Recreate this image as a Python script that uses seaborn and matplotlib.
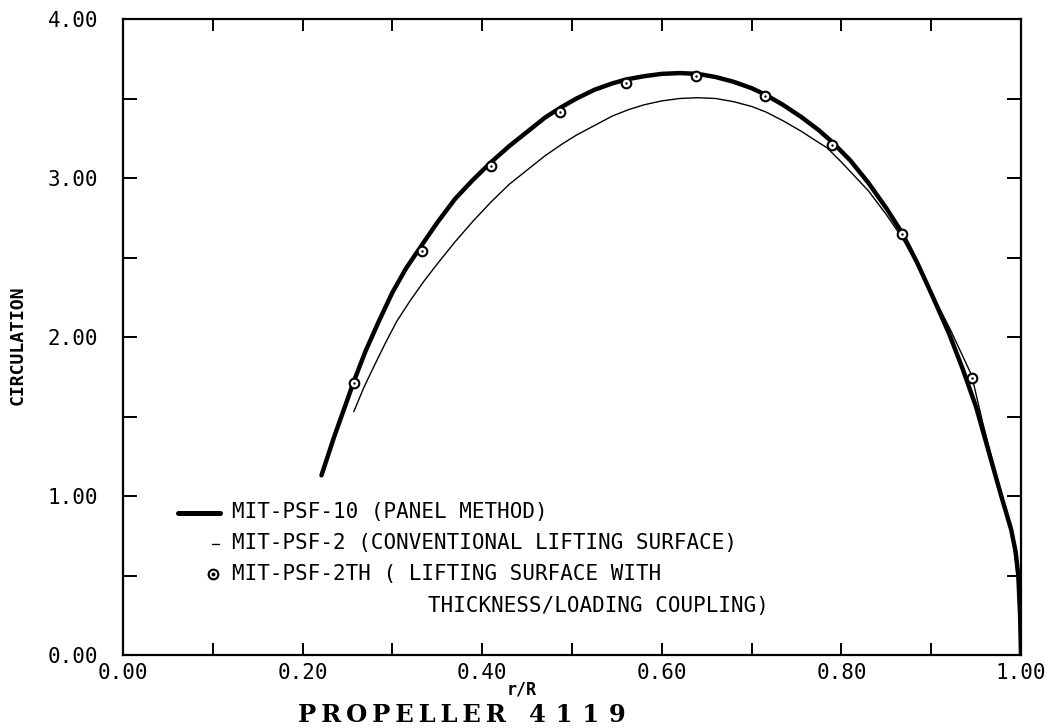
import matplotlib
matplotlib.use("Agg")
import matplotlib.pyplot as plt
from matplotlib.lines import Line2D
from matplotlib.ticker import MultipleLocator, FormatStrFormatter
import seaborn as sns
import pandas as pd

# MIT-PSF-10 (panel method)
r_panel = [0.221, 0.235, 0.247, 0.257, 0.27, 0.285, 0.30, 0.315, 0.333, 0.35,
           0.37, 0.39, 0.41, 0.43, 0.45, 0.47, 0.4865, 0.505, 0.525, 0.545,
           0.5605, 0.58, 0.60, 0.62, 0.64, 0.66, 0.68, 0.70, 0.715, 0.735,
           0.755, 0.775, 0.79, 0.81, 0.83, 0.85, 0.867, 0.885, 0.902, 0.92,
           0.935, 0.95, 0.965, 0.978, 0.989, 0.994, 0.997, 0.999, 1.0]
g_panel = [1.13, 1.37, 1.56, 1.72, 1.91, 2.10, 2.28, 2.43, 2.58, 2.72,
           2.87, 2.99, 3.10, 3.20, 3.29, 3.38, 3.44, 3.50, 3.555, 3.595,
           3.62, 3.64, 3.655, 3.66, 3.655, 3.635, 3.605, 3.565, 3.525, 3.46,
           3.385, 3.30, 3.225, 3.11, 2.97, 2.81, 2.66, 2.46, 2.25, 2.02,
           1.80, 1.56, 1.26, 1.00, 0.79, 0.65, 0.50, 0.25, 0.0]

# MIT-PSF-2 (conventional lifting surface)
r_conv = [0.257, 0.268, 0.279, 0.292, 0.305, 0.32, 0.335, 0.35, 0.37, 0.39,
          0.41, 0.43, 0.45, 0.47, 0.488, 0.505, 0.525, 0.545, 0.563, 0.58,
          0.60, 0.62, 0.64, 0.66, 0.68, 0.70, 0.716, 0.735, 0.755, 0.77,
          0.784, 0.80, 0.815, 0.83, 0.85, 0.867, 0.885, 0.902, 0.921, 0.945,
          0.957, 0.97, 0.98, 0.99, 0.996, 1.0]
g_conv = [1.53, 1.68, 1.81, 1.96, 2.10, 2.23, 2.35, 2.46, 2.60, 2.73,
          2.85, 2.96, 3.05, 3.14, 3.21, 3.27, 3.33, 3.39, 3.43, 3.46,
          3.485, 3.50, 3.505, 3.50, 3.48, 3.45, 3.415, 3.36, 3.295, 3.24,
          3.19, 3.10, 3.01, 2.92, 2.77, 2.63, 2.45, 2.26, 2.05, 1.76,
          1.47, 1.18, 0.98, 0.76, 0.50, 0.2]

# MIT-PSF-2TH (lifting surface with thickness/loading coupling)
r_th = [0.257, 0.333, 0.410, 0.4865, 0.5605, 0.638, 0.715, 0.790, 0.867, 0.945]
g_th = [1.71, 2.54, 3.075, 3.415, 3.60, 3.64, 3.515, 3.21, 2.65, 1.74]

legend_labels = ["MIT-PSF-10 (PANEL METHOD)",
                 "MIT-PSF-2 (CONVENTIONAL LIFTING SURFACE)",
                 "MIT-PSF-2TH ( LIFTING SURFACE WITH",
                 "THICKNESS/LOADING COUPLING)"]

panel = pd.DataFrame({"r": r_panel, "g": g_panel})
conv = pd.DataFrame({"r": r_conv, "g": g_conv})
th = pd.DataFrame({"r": r_th, "g": g_th})

sns.set_theme(style="ticks")
plt.rcParams["font.family"] = ["DejaVu Sans Mono", "DejaVu Sans"]
plt.rcParams["axes.edgecolor"] = "black"
plt.rcParams["axes.linewidth"] = 1.6

W, H = 1058, 728
fig = plt.figure(figsize=(W / 100, H / 100), dpi=100)
ax = fig.add_axes([123 / W, 1 - 655 / H, 898 / W, 636 / H])

sns.lineplot(data=panel, x="r", y="g", sort=False, estimator=None,
             color="black", lw=3.2, ax=ax, zorder=2)
sns.lineplot(data=conv, x="r", y="g", sort=False, estimator=None,
             color="black", lw=1.0, ax=ax, zorder=2)
sns.scatterplot(data=th, x="r", y="g", marker="o", s=48, facecolor="white",
                edgecolor="black", linewidth=1.5, ax=ax, zorder=3)
sns.scatterplot(data=th, x="r", y="g", marker="o", s=3, color="black",
                edgecolor="black", linewidth=0, ax=ax, zorder=4)

ax.set_xlim(0, 1)
ax.set_ylim(0, 4)
ax.set_xlabel("")
ax.set_ylabel("")
ax.xaxis.set_major_locator(MultipleLocator(0.2))
ax.xaxis.set_minor_locator(MultipleLocator(0.1))
ax.yaxis.set_major_locator(MultipleLocator(1.0))
ax.yaxis.set_minor_locator(MultipleLocator(0.5))
ax.xaxis.set_major_formatter(FormatStrFormatter("%.2f"))
ax.yaxis.set_major_formatter(FormatStrFormatter("%.2f"))
ax.tick_params(which="both", direction="in", top=True, right=True,
               width=1.4, color="black", labelsize=15, labelcolor="black")
ax.tick_params(axis="x", which="both", length=8.6, pad=6)
ax.tick_params(axis="y", which="both", length=10, pad=18)
for s in ax.spines.values():
    s.set_linewidth(1.6)
    s.set_color("black")

# legend keys and labels
tr = ax.transAxes
ax.add_line(Line2D([0.0612, 0.108], [0.223, 0.223], transform=tr,
                   color="black", lw=3.6))
ax.add_line(Line2D([0.0991, 0.1069], [0.175, 0.175], transform=tr,
                   color="black", lw=1.0))
ax.add_line(Line2D([0.1003], [0.127], transform=tr, marker="o", ms=7,
                   mfc="white", mec="black", mew=1.5, ls="none"))
ax.add_line(Line2D([0.1003], [0.127], transform=tr, marker="o", ms=1.8,
                   mfc="black", mec="black", ls="none"))
txt = dict(transform=tr, fontsize=15, color="black", va="center", ha="left")
ax.text(0.1214, 0.2248, legend_labels[0], **txt)
ax.text(0.1214, 0.176, legend_labels[1], **txt)
ax.text(0.1214, 0.127, legend_labels[2], **txt)
ax.text(0.3396, 0.0775, legend_labels[3], **txt)

fig.text(17.5 / W, 1 - 345 / H, "CIRCULATION", rotation=90, ha="center",
         va="center", fontsize=13, fontweight="bold", color="black")
fig.text(522 / W, 1 - 690 / H, "r/R", ha="center", va="center",
         fontsize=12, fontweight="bold", color="black")
fig.text(462 / W, 1 - 715 / H,
         "P\u2009R\u2009O\u2009P\u2009E\u2009L\u2009L\u2009E\u2009R\u2009\u2009\u2009 4\u2009\u20091\u2009\u20091\u2009\u20099",
         ha="center", va="center", fontsize=17.5, fontweight="bold",
         family="DejaVu Serif", color="black")

fig.savefig("out.png", dpi=100, facecolor="white")
